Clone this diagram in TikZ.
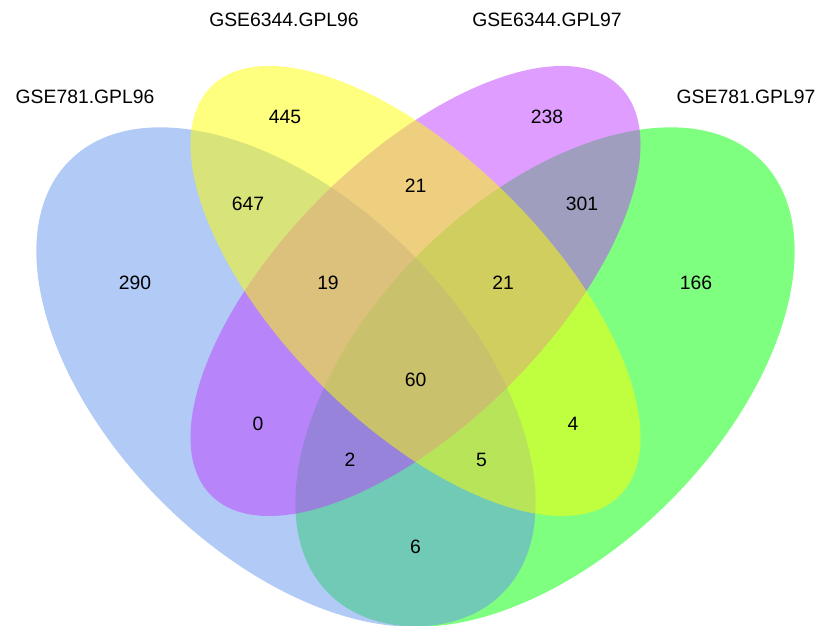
\documentclass[tikz,border=0pt]{standalone}
\usepackage{fontspec}
\setmainfont{Liberation Sans}

\definecolor{setblue}{RGB}{100,149,237}
\definecolor{setyellow}{RGB}{255,255,0}
\definecolor{setpurple}{RGB}{191,62,255}
\definecolor{setgreen}{RGB}{0,255,0}

\begin{document}
\begin{tikzpicture}[x=0.3mm, y=0.3mm,
  setfill/.style={fill opacity=0.5},
  cnt/.style={inner sep=0pt, font=\fontsize{16.5}{18}\selectfont},
  lbl/.style={inner sep=0pt, font=\fontsize{16.5}{18}\selectfont}]

\useasboundingbox (0,0) rectangle (821,626);

% the four sets, drawn back to front
\fill[setgreen, setfill, rotate around={45:(545,249)}] (545,249) ellipse (306 and 176);
\fill[setblue, setfill, rotate around={-45:(286,249)}] (286,249) ellipse (306 and 176);
\fill[setpurple, setfill, rotate around={45:(415.5,335)}] (415.5,335) ellipse (289 and 133);
\fill[setyellow, setfill, rotate around={-45:(415.5,335)}] (415.5,335) ellipse (289 and 133);

\node[lbl] (cat1) at (85,529) {GSE781.GPL96};
\node[lbl] (cat2) at (284,606.5) {GSE6344.GPL96};
\node[lbl] (cat3) at (547,606.5) {GSE6344.GPL97};
\node[lbl] (cat4) at (746,529) {GSE781.GPL97};

\node[cnt] (n445) at (285,509) {445};
\node[cnt] (n238) at (547,509) {238};
\node[cnt] (n647) at (248,422) {647};
\node[cnt] (n21a) at (415.5,440) {21};
\node[cnt] (n301) at (582,422) {301};
\node[cnt] (n290) at (135,343) {290};
\node[cnt] (n19) at (328,343) {19};
\node[cnt] (n21b) at (503,343) {21};
\node[cnt] (n166) at (696,343) {166};
\node[cnt] (n60) at (415.5,246) {60};
\node[cnt] (n0) at (258,202) {0};
\node[cnt] (n4) at (573,202) {4};
\node[cnt] (n2) at (350,166) {2};
\node[cnt] (n5) at (481.5,166) {5};
\node[cnt] (n6) at (415.5,79) {6};% all four at n60
\end{tikzpicture}
\end{document}
